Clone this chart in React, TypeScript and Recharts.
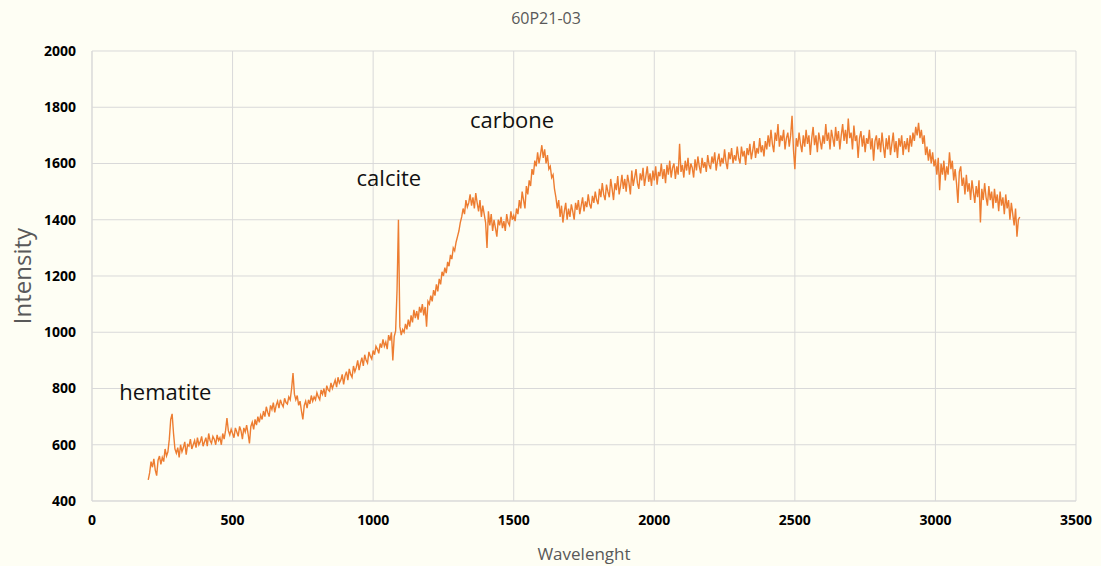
import React from "react";
import {
  LineChart,
  Line,
  XAxis,
  YAxis,
  CartesianGrid,
  ReferenceDot,
  Label,
} from "recharts";

const TITLE = "60P21-03";
const X_LABEL = "Wavelenght";
const Y_LABEL = "Intensity";
const X_TICKS = [0, 500, 1000, 1500, 2000, 2500, 3000, 3500];
const Y_TICKS = [400, 600, 800, 1000, 1200, 1400, 1600, 1800, 2000];

const WAVELENGTHS = [
  200, 205, 210, 215, 220, 225, 230, 235, 240, 245, 250, 255, 260, 265, 270, 275, 280, 285, 290, 295,
  300, 305, 310, 315, 320, 325, 330, 335, 340, 345, 350, 355, 360, 365, 370, 375, 380, 385, 390, 395,
  400, 405, 410, 415, 420, 425, 430, 435, 440, 445, 450, 455, 460, 465, 470, 475, 480, 485, 490, 495,
  500, 505, 510, 515, 520, 525, 530, 535, 540, 545, 550, 555, 560, 565, 570, 575, 580, 585, 590, 595,
  600, 605, 610, 615, 620, 625, 630, 635, 640, 645, 650, 655, 660, 665, 670, 675, 680, 685, 690, 695,
  700, 705, 710, 715, 720, 725, 730, 735, 740, 745, 750, 755, 760, 765, 770, 775, 780, 785, 790, 795,
  800, 805, 810, 815, 820, 825, 830, 835, 840, 845, 850, 855, 860, 865, 870, 875, 880, 885, 890, 895,
  900, 905, 910, 915, 920, 925, 930, 935, 940, 945, 950, 955, 960, 965, 970, 975, 980, 985, 990, 995,
  1000, 1005, 1010, 1015, 1020, 1025, 1030, 1035, 1040, 1045, 1050, 1055, 1060, 1065, 1070, 1075, 1080, 1085, 1090, 1095,
  1100, 1105, 1110, 1115, 1120, 1125, 1130, 1135, 1140, 1145, 1150, 1155, 1160, 1165, 1170, 1175, 1180, 1185, 1190, 1195,
  1200, 1205, 1210, 1215, 1220, 1225, 1230, 1235, 1240, 1245, 1250, 1255, 1260, 1265, 1270, 1275, 1280, 1285, 1290, 1295,
  1300, 1305, 1310, 1315, 1320, 1325, 1330, 1335, 1340, 1345, 1350, 1355, 1360, 1365, 1370, 1375, 1380, 1385, 1390, 1395,
  1400, 1405, 1410, 1415, 1420, 1425, 1430, 1435, 1440, 1445, 1450, 1455, 1460, 1465, 1470, 1475, 1480, 1485, 1490, 1495,
  1500, 1505, 1510, 1515, 1520, 1525, 1530, 1535, 1540, 1545, 1550, 1555, 1560, 1565, 1570, 1575, 1580, 1585, 1590, 1595,
  1600, 1605, 1610, 1615, 1620, 1625, 1630, 1635, 1640, 1645, 1650, 1655, 1660, 1665, 1670, 1675, 1680, 1685, 1690, 1695,
  1700, 1705, 1710, 1715, 1720, 1725, 1730, 1735, 1740, 1745, 1750, 1755, 1760, 1765, 1770, 1775, 1780, 1785, 1790, 1795,
  1800, 1805, 1810, 1815, 1820, 1825, 1830, 1835, 1840, 1845, 1850, 1855, 1860, 1865, 1870, 1875, 1880, 1885, 1890, 1895,
  1900, 1905, 1910, 1915, 1920, 1925, 1930, 1935, 1940, 1945, 1950, 1955, 1960, 1965, 1970, 1975, 1980, 1985, 1990, 1995,
  2000, 2005, 2010, 2015, 2020, 2025, 2030, 2035, 2040, 2045, 2050, 2055, 2060, 2065, 2070, 2075, 2080, 2085, 2090, 2095,
  2100, 2105, 2110, 2115, 2120, 2125, 2130, 2135, 2140, 2145, 2150, 2155, 2160, 2165, 2170, 2175, 2180, 2185, 2190, 2195,
  2200, 2205, 2210, 2215, 2220, 2225, 2230, 2235, 2240, 2245, 2250, 2255, 2260, 2265, 2270, 2275, 2280, 2285, 2290, 2295,
  2300, 2305, 2310, 2315, 2320, 2325, 2330, 2335, 2340, 2345, 2350, 2355, 2360, 2365, 2370, 2375, 2380, 2385, 2390, 2395,
  2400, 2405, 2410, 2415, 2420, 2425, 2430, 2435, 2440, 2445, 2450, 2455, 2460, 2465, 2470, 2475, 2480, 2485, 2490, 2495,
  2500, 2505, 2510, 2515, 2520, 2525, 2530, 2535, 2540, 2545, 2550, 2555, 2560, 2565, 2570, 2575, 2580, 2585, 2590, 2595,
  2600, 2605, 2610, 2615, 2620, 2625, 2630, 2635, 2640, 2645, 2650, 2655, 2660, 2665, 2670, 2675, 2680, 2685, 2690, 2695,
  2700, 2705, 2710, 2715, 2720, 2725, 2730, 2735, 2740, 2745, 2750, 2755, 2760, 2765, 2770, 2775, 2780, 2785, 2790, 2795,
  2800, 2805, 2810, 2815, 2820, 2825, 2830, 2835, 2840, 2845, 2850, 2855, 2860, 2865, 2870, 2875, 2880, 2885, 2890, 2895,
  2900, 2905, 2910, 2915, 2920, 2925, 2930, 2935, 2940, 2945, 2950, 2955, 2960, 2965, 2970, 2975, 2980, 2985, 2990, 2995,
  3000, 3005, 3010, 3015, 3020, 3025, 3030, 3035, 3040, 3045, 3050, 3055, 3060, 3065, 3070, 3075, 3080, 3085, 3090, 3095,
  3100, 3105, 3110, 3115, 3120, 3125, 3130, 3135, 3140, 3145, 3150, 3155, 3160, 3165, 3170, 3175, 3180, 3185, 3190, 3195,
  3200, 3205, 3210, 3215, 3220, 3225, 3230, 3235, 3240, 3245, 3250, 3255, 3260, 3265, 3270, 3275, 3280, 3285, 3290, 3295,
  3300,
];

const INTENSITY = [
  475, 500, 540, 520, 550, 510, 490, 545, 560, 530, 555, 540, 585, 560, 575, 620, 690, 710, 640, 585,
  570, 590, 555, 600, 575, 590, 610, 565, 600, 595, 620, 585, 600, 615, 590, 625, 600, 610, 630, 595,
  610, 625, 595, 640, 615, 605, 630, 620, 600, 635, 615, 625, 600, 640, 620, 650, 695, 650, 635, 655,
  640, 625, 660, 645, 630, 665, 650, 620, 660, 645, 670, 640, 605, 665, 680, 655, 690, 670, 700, 680,
  705, 690, 720, 700, 735, 715, 700, 740, 725, 750, 715, 740, 755, 730, 760, 745, 735, 765, 750, 745,
  770, 760, 800, 855, 780, 760, 775, 740, 755, 720, 690, 740, 755, 730, 760, 745, 775, 755, 770, 760,
  785, 770, 760, 795, 780, 800, 770, 810, 795, 790, 820, 800, 815, 830, 805, 840, 820, 830, 850, 815,
  845, 860, 830, 870, 850, 840, 880, 860, 875, 900, 865, 890, 910, 880, 920, 900, 890, 930, 915, 905,
  935, 920, 950, 940, 925, 960, 945, 975, 950, 965, 940, 990, 970, 1000, 900, 985, 1005, 1150, 1400, 1020,
  990, 1010, 1000, 1030, 1010, 1045, 1020, 1060, 1035, 1080, 1050, 1075, 1045, 1090, 1070, 1100, 1060, 1090, 1020, 1110,
  1100, 1130, 1110, 1150, 1130, 1170, 1145, 1190, 1170, 1215, 1200, 1230, 1210, 1250, 1235, 1275, 1260, 1300, 1290, 1320,
  1340, 1360, 1390, 1410, 1440, 1420, 1470, 1445, 1460, 1490, 1450, 1480, 1440, 1495, 1460, 1430, 1470, 1410, 1450, 1420,
  1390, 1300, 1430, 1380, 1420, 1360, 1400, 1370, 1340, 1400, 1380, 1410, 1370, 1395, 1360, 1420, 1390, 1380, 1430, 1400,
  1415, 1395, 1440, 1420, 1470, 1440, 1500, 1470, 1440, 1520, 1490, 1540, 1520, 1580, 1560, 1610, 1590, 1640, 1600, 1630,
  1665, 1620, 1650, 1600, 1630, 1580, 1590, 1550, 1560, 1510, 1480, 1440, 1470, 1410, 1450, 1390, 1430, 1460, 1400, 1440,
  1410, 1455, 1430, 1400, 1460, 1435, 1470, 1420, 1450, 1480, 1430, 1465, 1445, 1490, 1455, 1440, 1485, 1460, 1500, 1470,
  1455, 1510, 1480, 1530, 1490, 1470, 1525, 1500, 1480, 1545, 1510, 1470, 1530, 1505, 1555, 1490, 1520, 1560, 1510, 1545,
  1500, 1560, 1530, 1490, 1575, 1520, 1550, 1580, 1530, 1510, 1565, 1540, 1585, 1520, 1555, 1590, 1535, 1565, 1520, 1575,
  1540, 1590, 1525, 1570, 1555, 1600, 1545, 1580, 1530, 1595, 1560, 1610, 1550, 1585, 1600, 1545, 1590, 1560, 1670, 1570,
  1595, 1550, 1610, 1575, 1620, 1560, 1600, 1585, 1550, 1615, 1575, 1625, 1590, 1565, 1620, 1585, 1605, 1570, 1630, 1595,
  1580, 1625, 1600, 1640, 1575, 1610, 1635, 1590, 1620, 1600, 1650, 1605, 1580, 1640, 1615, 1655, 1600, 1630, 1610, 1660,
  1620, 1600, 1660, 1625, 1645, 1595, 1655, 1630, 1670, 1615, 1645, 1680, 1620, 1655, 1635, 1690, 1640, 1665, 1625, 1680,
  1650, 1700, 1660, 1720, 1670, 1640, 1710, 1680, 1740, 1660, 1700, 1680, 1720, 1650, 1690, 1710, 1660, 1700, 1770, 1650,
  1580, 1690, 1660, 1710, 1670, 1640, 1700, 1660, 1720, 1670, 1700, 1630, 1690, 1730, 1665, 1700, 1640, 1710, 1680, 1650,
  1700, 1670, 1740, 1680, 1710, 1650, 1720, 1690, 1660, 1730, 1680, 1715, 1650, 1700, 1740, 1680, 1720, 1670, 1760, 1690,
  1710, 1650, 1735, 1680, 1700, 1620, 1690, 1715, 1660, 1700, 1640, 1690, 1670, 1720, 1650, 1690, 1610, 1680, 1700, 1650,
  1690, 1640, 1710, 1660, 1620, 1690, 1650, 1700, 1630, 1670, 1710, 1640, 1680, 1620, 1690, 1660, 1700, 1630, 1680, 1650,
  1690, 1640, 1700, 1660, 1710, 1680, 1730, 1700, 1745, 1690, 1720, 1670, 1700, 1630, 1660, 1610, 1650, 1600, 1640, 1590,
  1615, 1560, 1620, 1505, 1600, 1560, 1610, 1540, 1590, 1560, 1640, 1580, 1610, 1540, 1580, 1530, 1460, 1570, 1590, 1520,
  1550, 1490, 1560, 1500, 1530, 1470, 1540, 1500, 1460, 1520, 1480, 1540, 1390, 1510, 1470, 1530, 1480, 1450, 1520, 1470,
  1500, 1440, 1510, 1460, 1490, 1430, 1500, 1450, 1480, 1420, 1490, 1440, 1470, 1400, 1460, 1420, 1380, 1440, 1340, 1400,
  1410,
];

const ANNOTATION_TEXT = ["hematite", "calcite", "carbone"];
const ANNOTATION_X = [261, 1056, 1494];
const ANNOTATION_Y = [788, 1548, 1755];

const data = WAVELENGTHS.map((w, i) => ({ w, v: INTENSITY[i] }));
const annotations = ANNOTATION_TEXT.map((t, i) => ({
  text: t,
  x: ANNOTATION_X[i],
  y: ANNOTATION_Y[i],
}));

const FONT = "'Open Sans', 'Noto Sans', sans-serif";
const GRID = "#d9d9d9";

export default function App() {
  return (
    <div
      style={{
        position: "fixed",
        left: 0,
        top: 0,
        width: 1101,
        height: 566,
        background: "#fefef4",
        fontFamily: FONT,
      }}
    >
      <div
        style={{
          position: "absolute",
          left: 0,
          top: 7,
          width: 1092,
          textAlign: "center",
          fontSize: 16,
          color: "#595959",
          fontFamily: FONT,
        }}
      >
        {TITLE}
      </div>
      <LineChart
        width={1101}
        height={566}
        data={data}
        margin={{ top: 51, right: 25, bottom: 0, left: 0 }}
      >
        <CartesianGrid stroke={GRID} strokeWidth={1} />
        <XAxis
          dataKey="w"
          type="number"
          domain={[0, 3500]}
          ticks={X_TICKS}
          height={65}
          axisLine={{ stroke: GRID }}
          tickLine={false}
          tickSize={0}
          tickMargin={14}
          tick={{ fontSize: 14, fontWeight: 700, fill: "#000", fontFamily: FONT }}
          interval={0}
        >
          <Label
            value={X_LABEL}
            position="insideBottom"
            offset={6}
            style={{ fontSize: 17, fill: "#595959", fontFamily: FONT }}
          />
        </XAxis>
        <YAxis
          type="number"
          domain={[400, 2000]}
          ticks={Y_TICKS}
          width={92}
          axisLine={{ stroke: GRID }}
          tickLine={false}
          tickSize={0}
          tickMargin={16}
          tick={{ fontSize: 14, fontWeight: 700, fill: "#000", fontFamily: FONT }}
          interval={0}
        >
          <Label
            value={Y_LABEL}
            angle={-90}
            position="insideLeft"
            offset={22}
            style={{
              fontSize: 24,
              fill: "#595959",
              fontFamily: FONT,
              textAnchor: "middle",
            }}
          />
        </YAxis>
        <Line
          type="linear"
          dataKey="v"
          stroke="#ED7D31"
          strokeWidth={1.4}
          dot={false}
          isAnimationActive={false}
        />
        {annotations.map((a) => (
          <ReferenceDot
            key={a.text}
            x={a.x}
            y={a.y}
            r={0}
            fill="none"
            stroke="none"
            label={{
              value: a.text,
              position: "center",
              fontSize: 22,
              fill: "#111",
              fontFamily: FONT,
            }}
          />
        ))}
      </LineChart>
    </div>
  );
}
